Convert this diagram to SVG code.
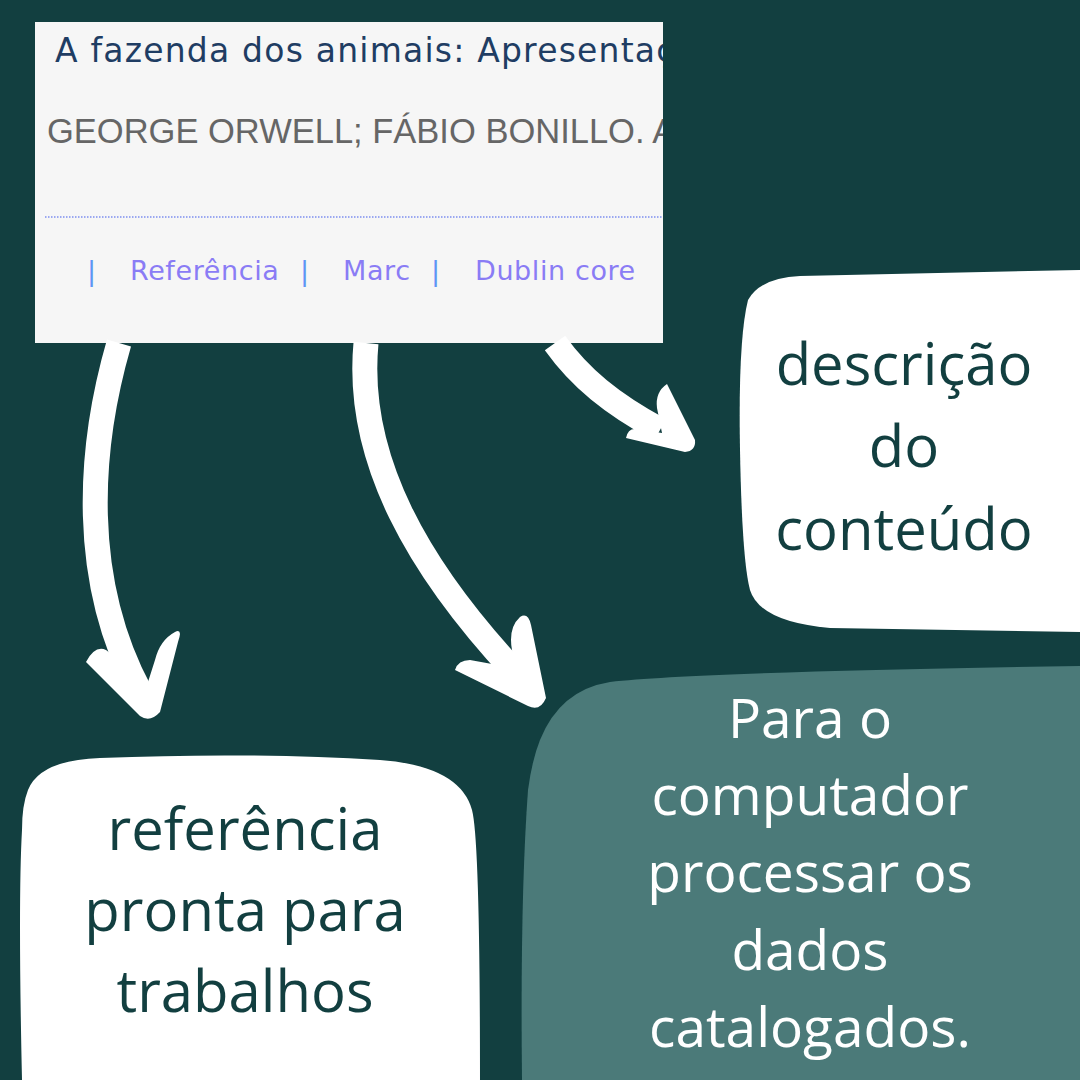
<svg xmlns="http://www.w3.org/2000/svg" width="1080" height="1080" viewBox="0 0 1080 1080">
<defs>
<style>
.big{font-family:"Open Sans","Noto Sans",sans-serif;font-size:58px;text-anchor:middle}
.dark{fill:#123f40}
.light{fill:#ffffff;font-size:55px}
.shaft{fill:none;stroke:#ffffff;stroke-width:25;stroke-linecap:butt}
.head{fill:#ffffff}
.link{font-family:"DejaVu Sans",Verdana,sans-serif;font-size:27px;letter-spacing:0.6px;fill:#8a7cf5}
.bar{font-family:"DejaVu Sans",Verdana,sans-serif;font-size:27px;fill:#5d95f5}
</style>
<clipPath id="shotclip"><rect x="35" y="22" width="628" height="321"/></clipPath>
</defs>
<rect x="0" y="0" width="1080" height="1080" fill="#123f40"/>

<g id="screenshot" clip-path="url(#shotclip)">
<rect x="35" y="22" width="628" height="321" fill="#f6f6f6"/>
<text x="55" y="62" font-family="DejaVu Sans, Verdana, sans-serif" font-size="33" letter-spacing="1.2" fill="#1f3d63">A fazenda dos animais: Apresentação</text>
<text x="47" y="143" font-family="Liberation Sans, Arial, sans-serif" font-size="34.5" fill="#666666">GEORGE ORWELL; FÁBIO BONILLO. A</text>
<line x1="45" y1="217" x2="663" y2="217" stroke="#7d8ff0" stroke-width="1.5" stroke-dasharray="1.5 1.5"/>
<text class="bar" x="87" y="280">|</text>
<text class="link" x="130" y="280">Referência</text>
<text class="bar" x="300" y="280">|</text>
<text class="link" x="343" y="280">Marc</text>
<text class="bar" x="431" y="280">|</text>
<text class="link" x="475" y="280">Dublin core</text>
</g>

<g id="connectors">
<path class="shaft" d="M 119 343 C 88 450, 80 580, 140 692"/>
<path class="head" d="M 86 662 L 140 716 Q 150 723 160 712 L 178 642 Q 183 628 175 632 Q 160 640 155 660 L 148 682 L 106 650 Q 95 645 86 662 Z"/>
<path class="shaft" d="M 366 343 C 355 460, 420 570, 515 672"/>
<path class="head" d="M 455 670 L 528 706 Q 540 712 546 698 L 531 625 Q 528 612 520 617 Q 508 628 512 650 L 514 668 L 470 660 Q 458 660 455 670 Z"/>
<path class="shaft" d="M 555 343 C 580 378, 612 404, 660 430"/>
<path class="head" d="M 626 438 Q 628 428 636 429 L 662 433 L 657 408 Q 655 392 667 384 L 695 440 Q 696 451 685 452 Z"/>
</g>

<g id="node-descricao">
<path d="M 748 300 Q 760 278 800 276 L 1080 270 L 1080 632 L 830 628 Q 760 622 750 590 Q 742 560 740 450 Q 738 340 748 300 Z" fill="#ffffff"/>
<text class="big dark" x="904" y="385">descrição</text>
<text class="big dark" x="904" y="467">do</text>
<text class="big dark" x="904" y="550">conteúdo</text>
</g>

<g id="node-referencia">
<path d="M 28 790 Q 40 760 100 758 Q 250 752 380 760 Q 460 766 472 810 Q 480 840 480 1080 L 22 1080 Q 18 900 22 830 Q 22 805 28 790 Z" fill="#ffffff"/>
<text class="big dark" x="245" y="850">referência</text>
<text class="big dark" x="245" y="931">pronta para</text>
<text class="big dark" x="245" y="1012">trabalhos</text>
</g>

<g id="node-computador">
<path d="M 540 740 Q 560 690 610 682 Q 700 672 1080 666 L 1080 1080 L 522 1080 Q 520 900 528 790 Q 532 760 540 740 Z" fill="#4b7a79"/>
<text class="big light" x="810" y="738">Para o</text>
<text class="big light" x="810" y="815">computador</text>
<text class="big light" x="810" y="892">processar os</text>
<text class="big light" x="810" y="970">dados</text>
<text class="big light" x="810" y="1047">catalogados.</text>
</g>
</svg>
